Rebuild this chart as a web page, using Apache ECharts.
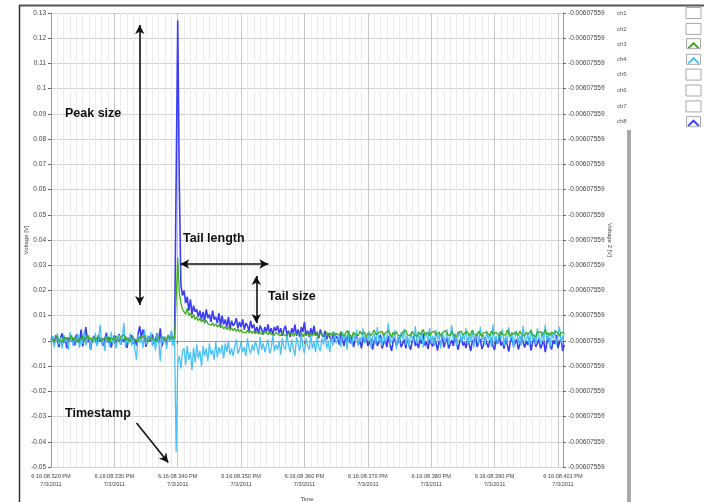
<!DOCTYPE html>
<html><head><meta charset="utf-8">
<script src="https://cdn.jsdelivr.net/npm/echarts@6/dist/echarts.min.js"></script>
<style>html,body{margin:0;padding:0;background:#fff}#c{width:704px;height:502px}</style>
</head><body><div id="c"></div>
<script>
// ---- sampling grid (ms after 6:16:08 PM) ----
const startMs = 320;
const stepMs = 0.25;
const xMin = 320, xMax = 400.8, xMajor = 10;
const yMin = -0.05, yMax = 0.13, yStep = 0.01;
const timePrefix = '6:16:08.';
const dateLabel = '7/3/2011';
const rightAxisLabel = '-0.00607559';
const channelNames = ['ch1','ch2','ch3','ch4','ch5','ch6','ch7','ch8'];

// ---- series values (V) ----
const ch8 = [
.0005,.0018,-.0012,.0022,.0003,-.0025,.001,.003,-.0008,.0014,-.003,.0006,.002,-.0002,.0012,-.0018,.0025,.0004,-.001,.0045,
-.0022,.0008,.0055,-.0005,.0011,-.0035,.0002,.0019,.0007,-.0014,.0024,-.0003,.0013,-.002,.0009,.0032,-.0007,.0015,-.0026,.0001,
.0021,-.0009,.0006,.0027,-.0016,.001,-.0004,.0018,-.0028,.0012,.0003,.0023,-.0011,.0007,-.0019,.0029,.0058,.0014,.0045,.002,
-.0024,.0009,.0017,-.0002,.0026,-.0013,.0005,.0031,-.0008,.005,-.0021,.0004,.0016,-.0015,.0022,.0002,.0035,-.001,.0008,.0012,
.127,.062,.022,.018,
.02,.015,.0175,.012,.0165,.0105,.014,.0115,.0125,.0095,.012,.0085,.0115,.008,.0125,.009,.0105,.0075,.012,.0085,
.0095,.007,.011,.006,.01,.0065,.0085,.0055,.0095,.005,.008,.006,.007,.009,.005,.0075,.0055,.0085,.0045,.007,
.006,.004,.008,.005,.0065,.0035,.0055,.003,.006,.0045,.0025,.0055,.0035,.0065,.003,.005,.0025,.0055,.004,.006,
.003,.005,.002,.0045,.006,.0025,.004,.0015,.005,.003,.0065,.002,.0045,.0015,.0055,.0035,.0075,.002,.004,.0015,
.005,.0025,.006,.002,.0035,.001,.0045,.0025,.0015,.004,.0005,.003,.0035,0,.0025,-.0005,.002,
.001,-.0015,.003,.0005,-.002,.002,-.0005,.004,-.001,.0015,-.0025,.0005,.0025,-.0015,0,-.003,.0015,-.0005,.002,-.002,
-.001,.001,-.0035,0,.0015,-.002,-.0005,.0025,-.003,-.001,.0005,-.0025,.002,-.0015,-.004,0,.001,-.002,-.0005,.0015,
-.0025,-.001,.0005,-.003,.001,-.0015,-.0035,0,.002,-.002,-.0005,-.0028,.0008,-.0012,.003,-.0018,-.0003,-.0032,.0005,-.001,
-.0022,.0012,-.0008,-.0038,0,-.0015,.0018,-.0025,-.0005,.001,-.003,-.0012,.0003,-.002,.0025,-.0008,-.0035,-.0002,.0014,-.0018,
-.0006,-.0028,.001,-.0014,-.004,.0002,-.001,.002,-.0024,-.0004,.0008,-.0032,-.0016,.0015,-.0008,-.0026,0,.0012,-.002,-.0036,
.0004,-.0012,.0022,-.0018,-.0006,-.003,.001,-.0014,-.0042,-.0002,.0016,-.0022,-.0008,.0006,-.0034,-.0012,.0018,-.0004,-.0026,0,
-.0016,.0012,-.0038,-.0006,.002,-.0024,-.001,.0008,-.003,-.0014,.0004,-.0045,-.0008,.0016,-.002,-.0034,.0002,-.0012,.0024,-.0028,-.0006,.001,-.004,-.0015
];
const ch3 = [
.0008,.0015,-.0002,.0012,.002,.0003,.001,-.0005,.0018,.0006,.0014,-.0003,.0009,.0022,.0001,.0011,.0016,-.0006,.0013,.0005,
.0019,0,.001,.0024,.0004,.0012,-.0004,.0017,.0008,.0002,.0015,.0021,-.0001,.0009,.0013,.0006,.0018,-.0007,.0011,.0014,
.0003,.002,.0007,-.0002,.0016,.001,.0025,.0001,.0012,.0008,-.0005,.0015,.0019,.0004,.0011,0,.0017,.0009,.0013,.0022,
.0005,.001,-.0003,.0014,.0018,.0006,.0011,.0002,.002,.0012,.0007,.0015,-.0001,.0009,.0023,.001,.0004,.0016,.0008,.0012,
.033,.019,.015,.0125,
.0125,.0105,.013,.01,.011,.009,.0105,.0085,.0095,.008,.009,.0075,.0085,.007,.0082,.0068,.0075,.0062,.0072,.0058,
.0068,.0055,.0064,.0052,.006,.0048,.0057,.0045,.0055,.0042,.0052,.004,.005,.0038,.0047,.0036,.0045,.0035,.0042,.0032,
.0042,.0032,.004,.003,
.0039,.0029,.0037,.0027,.0036,.0026,.0034,.0029,.0033,.0025,.0036,.0026,.0032,.0022,.0035,.0027,.0031,.0021,.0034,.0025,
.003,.0019,.0033,.0024,.0032,.0018,.0029,.0023,.0028,.0021,.0033,.0017,.0029,.002,.0032,.0018,.003,.0019,.0034,.0021,
.0031,.0016,.0033,.0024,.0028,.0019,.0035,.0017,.0032,.0022,.0036,.002,.003,
.0033,.0023,.0037,.0027,.0019,.0031,.0041,.0025,.0029,.0017,.0035,.0026,.0032,.0021,.0039,.0028,.0024,.0034,.0015,.003,
.0036,.0022,.0029,.0043,.0025,.0018,.0033,.0027,.0038,.002,.0031,.0024,.004,.0028,.0016,.0034,.0026,.0037,.0023,.003,
.0019,.0035,.0029,.0042,.0024,.0031,.0021,.0038,.0027,.0033,.0017,.0036,.0025,.003,.0045,.0023,.0028,.0034,.002,.0032,
.0026,.0039,.0022,.0029,.0035,.0018,.0031,.0025,.0041,.0027,.0033,.0021,.0037,.0024,.003,.0016,.0034,.0028,.0039,.0023,
.0031,.0025,.0036,.0019,.0029,.0042,.0026,.0033,.0022,.0038,.0028,.0017,.0032,.0025,.0035,.003,.0021,.004,.0027,.0024,
.0034,.0029,.0018,.0037,.0026,.0031,.0023,.0043,.0028,.002,.0033,.0025,.0036,.003,.0022,.0039,.0027,.0032,.0019,.0035,
.0026,.0031,.0041,.0024,.0029,.0017,.0034,.0027,.0037,.0022,.003,.0045,.0025,.0033,.0021,.0036,.0028,.0024,.0039,.0031,.0019,.0034,.0027,.0032
];
const ch4 = [
-.001,.002,-.0025,.0008,.003,-.0015,.0012,-.003,.0025,-.0005,.0015,-.0035,.0035,.0002,-.002,.0018,-.0008,.0028,-.0028,.001,
-.0012,.004,-.0018,.0005,.0022,-.0032,.0014,-.0006,.0032,-.0022,0,.0065,-.0014,.001,-.004,.002,.0006,-.0024,.0036,-.001,
.0016,-.003,.0004,.0024,-.0016,.0012,.0072,-.0026,.0008,-.0012,.003,-.002,.0018,-.0036,-.0075,.0026,-.0008,.0014,-.0028,.0045,
-.0014,.0022,-.0004,.0034,-.0022,.001,-.0038,.0028,.0006,-.008,.002,-.001,.0016,-.0032,.0024,0,.0042,-.002,.0012,
-.044,-.009,-.006,-.011,-.004,
-.003,-.0095,-.002,-.0075,-.0045,-.0115,-.0025,-.0085,-.0015,-.007,-.004,-.01,-.002,-.006,-.003,-.008,-.001,-.0055,-.0035,-.0075,
-.0005,-.0065,-.0025,-.005,-.0015,-.007,-.001,-.0045,0,-.0055,-.003,-.006,-.002,.0005,-.005,-.0035,-.0005,-.0045,-.0025,-.006,
.001,-.003,-.005,-.0015,-.004,0,-.0025,-.0055,.0015,-.0035,-.001,-.0045,-.002,.0005,-.005,-.003,.002,-.004,-.0015,-.0035,
0,-.0055,.001,-.0025,-.0035,.0025,-.002,-.0045,.0005,-.003,-.006,.0015,-.0015,-.004,.003,-.0025,-.005,.001,-.002,-.0035,
.002,-.003,-.0005,-.0045,.0015,-.0025,-.004,.001,-.0015,.0025,-.003,-.0005,-.0045,.0015,-.002,.0035,-.001,
-.001,.002,-.0025,.0035,.0005,.0025,-.0035,.004,.001,-.0015,.003,0,.0045,-.002,.0015,-.0005,.005,-.001,.0022,.0002,
.0038,-.0028,.0016,.0028,-.0014,.0055,-.0002,.0012,-.002,.0032,-.0006,.0018,.007,-.0018,.0024,.0004,.0042,-.0032,.002,-.0008,
.0034,.0006,.0048,-.0016,.0022,-.0024,.003,.001,-.0004,.0058,-.0012,.0026,.0002,.004,-.0026,.0016,.0036,-.0002,.0052,-.001,
.002,-.002,.0044,.0002,.0028,-.003,.0032,.0014,-.0006,.0046,-.0014,.0022,.0062,0,.003,-.0022,.0018,.0038,-.0008,.0024,
.0004,.005,-.0018,.0026,-.0002,.0042,-.0026,.0012,.0034,-.001,.0056,.0002,.0024,-.0016,.004,.0006,.0028,-.0024,.0066,-.0004,
.002,-.0012,.0036,.0008,.0048,-.002,.0022,-.0006,.0054,.0004,.003,-.0028,.0018,.004,-.0008,.0024,-.0018,.006,.001,-.0002,
.0032,-.0022,.0046,0,.0026,-.0014,.005,.0014,-.001,.0038,-.0004,.0064,.0002,.0028,-.0026,.0034,.0008,.0044,-.0016,.0022,.0056,-.0008,.0018,.003
];

// annotation arrows in data space: [from, to, both ends?]
const arrows = [
  [[334.0, 0.1252], [334.0, 0.0142], true],
  [[340.4, 0.0305], [354.3, 0.0305], true],
  [[352.4, 0.0257], [352.4, 0.0071], true],
  [[333.5, -0.0326], [338.5, -0.0482], false]
];
const notes = [
  ['Peak size', 65, 115],
  ['Tail length', 183, 240],
  ['Tail size', 268, 298],
  ['Timestamp', 65, 415]
];

const colors = { ch3: '#3cab1c', ch4: '#48c2f7', ch8: '#3c3cf6' };
const valuesByChannel = { ch3: ch3, ch4: ch4, ch8: ch8 };
const zByChannel = { ch8: 2, ch4: 3, ch3: 4 };

const toPairs = arr => arr.map((v, i) => [startMs + i * stepMs, v]);

const caretIcon = 'path://M0,0L0.01,0L0.01,0.01ZM15,11L14.99,11L14.99,10.99ZM1.5,9L7.5,3L13.5,9L12,10.3L7.5,5.8L3,10.3Z';

const legendData = channelNames.map(n => colors[n]
  ? { name: n, icon: caretIcon }
  : { name: n, icon: 'rect', itemStyle: { color: '#fff', borderColor: '#a8a8a8', borderWidth: 1 } });

const series = channelNames.map(n => {
  const s = {
    name: n, type: 'line', showSymbol: false, symbol: 'none',
    data: valuesByChannel[n] ? toPairs(valuesByChannel[n]) : [],
    color: colors[n] || '#999',
    lineStyle: { width: n === 'ch8' ? 1.6 : 1.3, color: colors[n] || '#999' },
    z: zByChannel[n] || 1,
    animation: false, silent: true
  };
  if (n === 'ch3') {
    s.markLine = {
      silent: true, animation: false,
      symbol: ['arrow', 'arrow'], symbolSize: [7, 9],
      label: { show: false },
      lineStyle: { color: '#111', width: 1.6, type: 'solid' },
      emphasis: { disabled: true },
      data: arrows.map(a => [
        { coord: a[0], symbol: a[2] ? 'arrow' : 'none' },
        { coord: a[1], symbol: 'arrow' }
      ])
    };
  }
  return s;
});

const minorColors = ['#c6c6c6', '#ebebeb', '#ebebeb', '#ebebeb', '#ebebeb', '#ebebeb', '#ebebeb', '#ebebeb', '#ebebeb', '#ebebeb'];

const baseFont = 'Liberation Sans';
const legendTop = 7, legendPitch = 15.6, legendLeft = 617, legendTextW = 64;
const chart = echarts.init(document.getElementById('c'), null, { renderer: 'canvas' });
chart.setOption({
  animation: false,
  backgroundColor: '#fff',
  textStyle: { fontFamily: baseFont },
  grid: { left: 51, right: 141, top: 13, bottom: 35, containLabel: false, outerBoundsMode: 'none' },
  legend: {
    orient: 'vertical', left: legendLeft, top: legendTop, align: 'right', padding: 0,
    itemWidth: 15, itemHeight: 11, itemGap: 3.9, selectedMode: false,
    formatter: '{n|{name}}',
    itemStyle: { borderWidth: 0 },
    textStyle: { color: '#555', fontSize: 6, lineHeight: 9, fontFamily: baseFont,
      rich: { n: { width: legendTextW, lineHeight: 9, align: 'left', fontSize: 6, color: '#555', fontFamily: baseFont } } },
    data: legendData
  },
  xAxis: [{
    type: 'value', min: xMin, max: xMax, interval: xMajor, position: 'bottom',
    name: 'Time', nameLocation: 'middle', nameGap: 29, nameMoveOverlap: false,
    nameTextStyle: { fontSize: 6, color: '#444', fontFamily: baseFont },
    axisLine: { show: true, lineStyle: { color: '#999' } },
    axisTick: { show: true, length: 3, lineStyle: { color: '#666' } },
    axisLabel: {
      fontSize: 5.6, lineHeight: 8, color: '#444', margin: 5, fontFamily: baseFont,
      formatter: v => (v < xMax && xMax - v < 3) ? '' : timePrefix + Math.round(v) + ' PM\n' + dateLabel
    },
    splitLine: { show: false }
  }, {
    type: 'value', min: xMin, max: xMax, interval: 1, position: 'bottom',
    axisLine: { show: false }, axisTick: { show: false }, axisLabel: { show: false },
    splitLine: { show: true, lineStyle: { color: minorColors, width: 1 } }
  }],
  yAxis: [{
    type: 'value', min: yMin, max: yMax, interval: yStep, position: 'left',
    name: 'Voltage [V]', nameLocation: 'middle', nameGap: 22, nameMoveOverlap: false,
    nameTextStyle: { fontSize: 6, color: '#444', fontFamily: baseFont },
    axisLine: { show: true, lineStyle: { color: '#999' } },
    axisTick: { show: true, length: 3, lineStyle: { color: '#666' } },
    axisLabel: { fontSize: 6.5, color: '#444', margin: 5, fontFamily: baseFont,
      formatter: v => String(+v.toFixed(2)) },
    splitLine: { show: true, lineStyle: { color: '#d2d2d2' } }
  }, {
    type: 'value', min: yMin, max: yMax, interval: yStep, position: 'right',
    name: 'Voltage 2 [V]', nameLocation: 'middle', nameGap: 44, nameRotate: -90, nameMoveOverlap: false,
    nameTextStyle: { fontSize: 6, color: '#444', fontFamily: baseFont },
    axisLine: { show: true, lineStyle: { color: '#999' } },
    axisTick: { show: true, length: 3, lineStyle: { color: '#666' } },
    axisLabel: { fontSize: 6.5, color: '#444', margin: 5, fontFamily: baseFont,
      formatter: () => rightAxisLabel },
    splitLine: { show: false }
  }],
  series: series,
  graphic: [
    { type: 'line', shape: { x1: 19, y1: 5.5, x2: 704, y2: 5.5 }, style: { stroke: '#555', lineWidth: 2 }, silent: true },
    { type: 'line', shape: { x1: 19.5, y1: 5, x2: 19.5, y2: 502 }, style: { stroke: '#333', lineWidth: 1.5 }, silent: true },
    { type: 'rect', shape: { x: 627, y: 130, width: 4, height: 372 }, style: { fill: '#a9a9a9' }, silent: true },
    ...['ch3', 'ch4', 'ch8'].map(n => ({
      type: 'rect', z: 200,
      shape: { x: legendLeft + legendTextW + 5.5, y: legendTop + 0.5 + channelNames.indexOf(n) * legendPitch, width: 14, height: 10 },
      style: { fill: null, stroke: '#a8a8a8', lineWidth: 1 }, silent: true
    })),
    ...notes.map(t => ({
      type: 'text', left: t[1], top: t[2] - 8, z: 100, silent: true,
      style: { text: t[0], fill: '#111', font: 'bold 12.5px "Liberation Sans"' }
    }))
  ]
});
</script></body></html>
